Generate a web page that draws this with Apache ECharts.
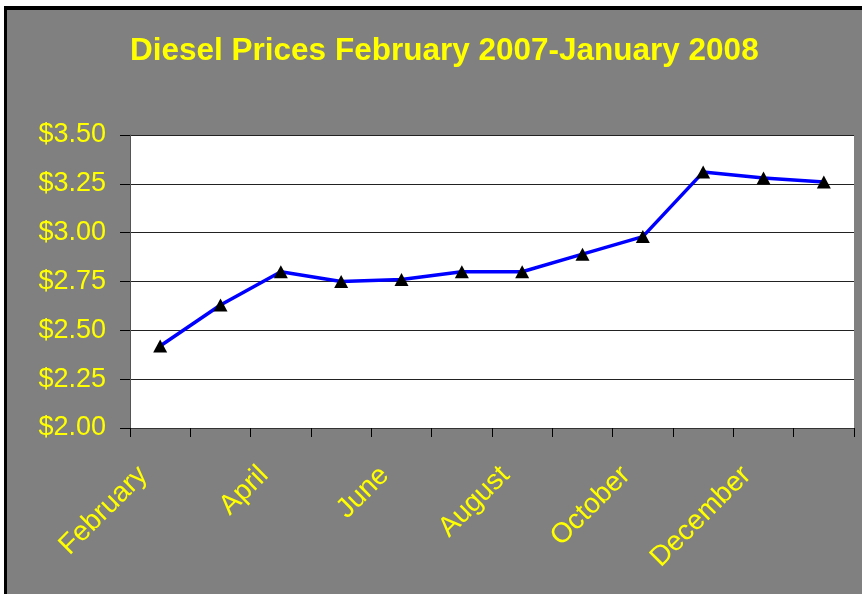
<!DOCTYPE html>
<html>
<head>
<meta charset="utf-8">
<title>Diesel Prices</title>
<script src="https://cdn.jsdelivr.net/npm/echarts@6/dist/echarts.min.js"></script>
<style>
  html, body { margin: 0; padding: 0; background: #fff; }
  .frame {
    position: absolute;
    left: 4px;
    top: 6px;
    border-left: 3px solid #000;
    border-top: 4px solid #000;
  }
  #chart { width: 855px; height: 584px; background: #808080; }
</style>
</head>
<body>
<div class="frame"><div id="chart"></div></div>
<script>
// months shown on the category axis
var months = ['February', 'March', 'April', 'May', 'June', 'July', 'August',
  'September', 'October', 'November', 'December', 'January'];
// diesel price per gallon ($)
var prices = [2.42, 2.63, 2.80, 2.75, 2.76, 2.80, 2.80, 2.89, 2.98, 3.31, 3.28, 3.26];

var yellow = '#ffff00';
var font = 'Liberation Sans, Arial, sans-serif';

var myChart = echarts.init(document.getElementById('chart'));
var option = {
  backgroundColor: '#808080',
  animation: false,
  title: {
    text: 'Diesel Prices February 2007-January 2008',
    left: 118,
    top: 20,
    padding: 5,
    textStyle: {
      color: yellow,
      fontSize: 31.5,
      fontWeight: 'bold',
      fontFamily: font
    }
  },
  grid: {
    left: 123,
    top: 125,
    right: 8,
    bottom: 166,
    show: true,
    backgroundColor: '#fff',
    borderWidth: 0
  },
  xAxis: {
    type: 'category',
    data: months,
    boundaryGap: true,
    axisLine: { lineStyle: { color: '#333', width: 1 } },
    axisTick: { show: true, interval: 0, length: 9, lineStyle: { color: '#000' } },
    axisLabel: {
      interval: 1,
      rotate: 45,
      margin: 26,
      padding: [0, 24, 0, 0],
      color: yellow,
      fontSize: 28,
      fontFamily: font
    }
  },
  yAxis: {
    type: 'value',
    min: 2,
    max: 3.5,
    interval: 0.25,
    axisLine: { show: true, lineStyle: { color: '#555', width: 1 } },
    axisTick: { show: true, length: 10, lineStyle: { color: '#000' } },
    splitLine: { lineStyle: { color: '#222', width: 1 } },
    axisLabel: {
      margin: 24,
      color: yellow,
      fontSize: 27,
      fontFamily: font,
      formatter: function (v) { return '$' + v.toFixed(2); }
    }
  },
  series: [{
    type: 'line',
    data: prices,
    symbol: 'triangle',
    symbolSize: [14, 13],
    itemStyle: { color: '#000' },
    lineStyle: { color: '#0000ff', width: 3.5 }
  }]
};
myChart.setOption(option);
</script>
</body>
</html>
